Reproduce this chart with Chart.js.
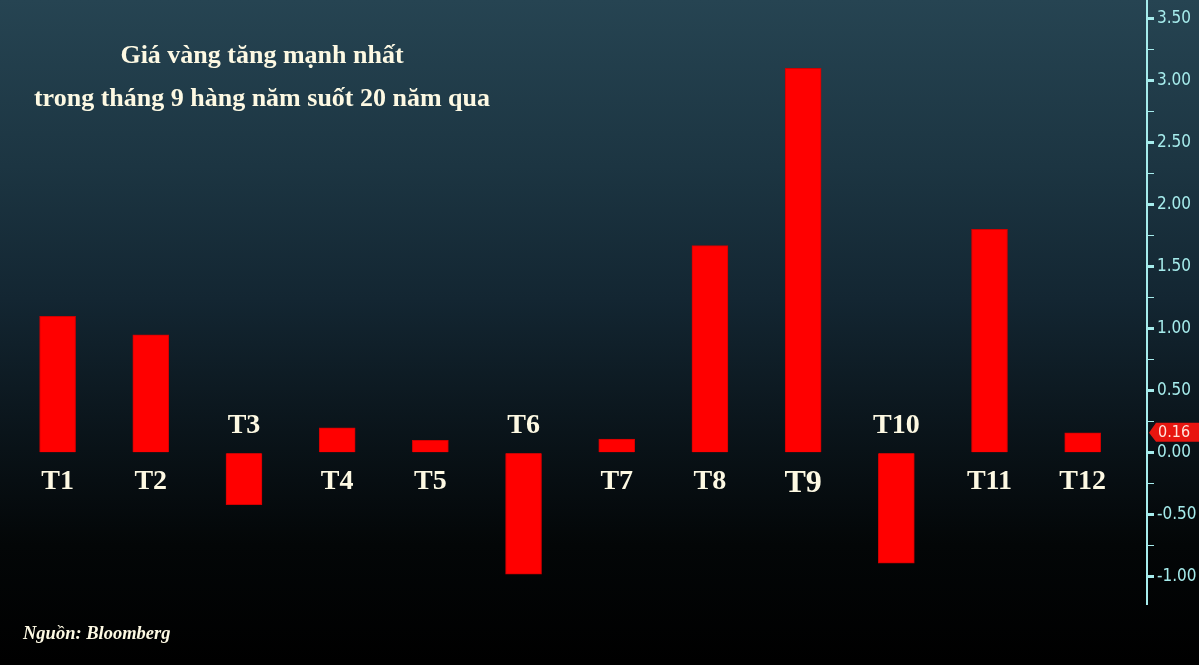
<!DOCTYPE html>
<html>
<head>
<meta charset="utf-8">
<script src="https://cdn.jsdelivr.net/npm/chart.js@4.4.1/dist/chart.umd.min.js"></script>
<style>
  html, body { margin: 0; padding: 0; }
  body {
    width: 1199px; height: 665px; overflow: hidden;
    background: linear-gradient(to bottom, #264452 0%, #1c3542 25%, #132632 45%, #0a141a 65%, #030607 82%, #000 100%);
  }
  #wrap { position: relative; width: 1199px; height: 665px; }
</style>
</head>
<body>
<div id="wrap"><canvas id="chart" width="1199" height="665"></canvas></div>
<script>
// dữ liệu: mức tăng trung bình giá vàng theo tháng (%)
const months = ["T1", "T2", "T3", "T4", "T5", "T6", "T7", "T8", "T9", "T10", "T11", "T12"];
const changes = [1.10, 0.95, -0.42, 0.20, 0.10, -0.98, 0.11, 1.67, 3.10, -0.89, 1.80, 0.16];
const titleLines = ["Giá vàng tăng mạnh nhất", "trong tháng 9 hàng năm suốt 20 năm qua"];
const sourceText = "Nguồn: Bloomberg";

const cream = "#fdf9e3";
const cyan = "#a6ecec";
const axisFont = "'Liberation Sans Narrow', 'DejaVu Sans Condensed', sans-serif";

// vẽ nhãn tháng, tiêu đề, nguồn và nhãn giá trị cuối
const overlay = {
    id: "overlay",
    afterDatasetsDraw(chart) {
        const c = chart.ctx;
        const xs = chart.scales.x, ys = chart.scales.y;
        const zero = ys.getPixelForValue(0);
        c.save();
        c.fillStyle = cream;
        c.textAlign = "center";
        c.textBaseline = "alphabetic";
        months.forEach((m, i) => {
            const x = xs.getPixelForValue(i + 1);
            const big = m === "T9";
            c.font = "bold " + (big ? 32 : 28) + "px 'Liberation Serif', serif";
            const y = changes[i] >= 0 ? zero + (big ? 39 : 36) : zero - 20;
            c.fillText(m, x, y);
        });

        c.font = "bold 26px 'Liberation Serif', serif";
        c.fillText(titleLines[0], 262, 63);
        c.fillText(titleLines[1], 262, 106);

        c.textAlign = "left";
        c.font = "italic bold 18.5px 'Liberation Serif', serif";
        c.fillText(sourceText, 23, 639);

        // nhãn giá trị cuối trên trục
        const last = changes[changes.length - 1];
        const ty = ys.getPixelForValue(last);
        const left = ys.left + 2;
        c.fillStyle = "#e8150f";
        c.beginPath();
        c.moveTo(left, ty);
        c.lineTo(left + 7, ty - 10);
        c.lineTo(1199, ty - 10);
        c.lineTo(1199, ty + 9);
        c.lineTo(left + 7, ty + 9);
        c.closePath();
        c.fill();
        c.fillStyle = "#ffe4dc";
        c.font = "16px " + axisFont;
        c.textBaseline = "middle";
        c.fillText(last.toFixed(2), left + 9, ty);
        c.restore();
    }
};

const isQuarter = v => Math.abs(v * 4 - Math.round(v * 4)) < 1e-6;
const isHalf = v => Math.abs(v * 2 - Math.round(v * 2)) < 1e-6;

new Chart(document.getElementById("chart"), {
    type: "bar",
    data: {
        datasets: [{
            data: months.map((m, i) => ({ x: i + 1, y: changes[i] })),
            backgroundColor: "#ff0000",
            borderColor: "#d00000",
            borderWidth: 1,
            barThickness: 36
        }]
    },
    options: {
        responsive: false,
        animation: false,
        layout: { padding: { left: 11, top: 0, bottom: 61, right: 0 } },
        plugins: { legend: { display: false }, tooltip: { enabled: false } },
        scales: {
            x: {
                type: "linear",
                display: false,
                offset: false,
                min: 0.5,
                max: 12.69
            },
            y: {
                position: "right",
                min: -1.22,
                max: 3.65,
                afterFit(scale) {
                    scale.width = 52;
                    scale.paddingTop = 0;
                    scale.paddingBottom = 0;
                },
                border: { display: true, color: cyan, width: 2 },
                grid: {
                    drawOnChartArea: false,
                    drawTicks: true,
                    tickLength: 7,
                    tickColor: ctx => isQuarter(ctx.tick.value) ? cyan : "rgba(0,0,0,0)",
                    tickWidth: ctx => isHalf(ctx.tick.value) ? 3 : 1
                },
                ticks: {
                    stepSize: 0.25,
                    includeBounds: false,
                    autoSkip: false,
                    padding: 3,
                    color: cyan,
                    font: { family: axisFont, size: 17 },
                    callback: v => isHalf(v) ? v.toFixed(2) : ""
                }
            }
        }
    },
    plugins: [overlay]
});
</script>
</body>
</html>
